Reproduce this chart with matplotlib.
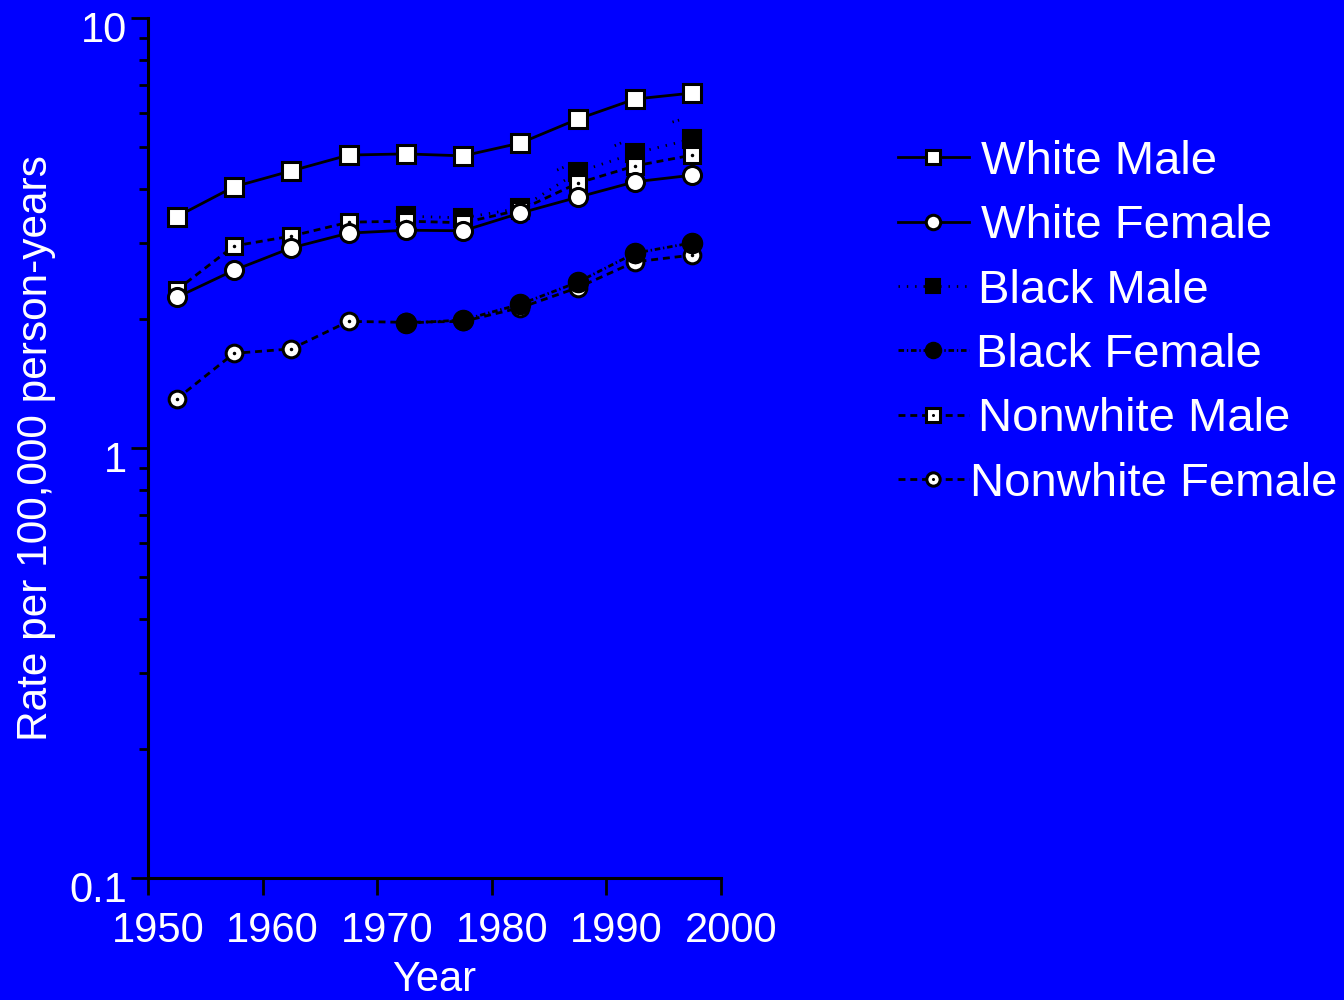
import matplotlib
matplotlib.use("Agg")
import matplotlib.pyplot as plt
import matplotlib.transforms as mtransforms
from matplotlib.ticker import LogLocator, FixedLocator, NullFormatter
from matplotlib.legend_handler import HandlerTuple

plt.rcParams['font.family'] = ['Liberation Sans', 'DejaVu Sans']
plt.rcParams['lines.scale_dashes'] = False

# 5-year period midpoints
years = [1952.5, 1957.5, 1962.5, 1967.5, 1972.5, 1977.5, 1982.5, 1987.5, 1992.5, 1997.5]
black_years = [1972.5, 1977.5, 1982.5, 1987.5, 1992.5, 1997.5]

# rates per 100,000 person-years
white_male = [3.45, 4.05, 4.41, 4.80, 4.83, 4.78, 5.12, 5.82, 6.48, 6.69]
white_female = [2.24, 2.59, 2.92, 3.16, 3.21, 3.20, 3.52, 3.83, 4.16, 4.31]
black_male = [3.46, 3.43, 3.61, 4.38, 4.85, 5.23]
black_female = [1.95, 1.985, 2.16, 2.43, 2.84, 3.00]
nonwhite_male = [2.33, 2.95, 3.11, 3.35, 3.37, 3.34, 3.58, 4.13, 4.53, 4.80]
nonwhite_female = [1.30, 1.66, 1.70, 1.97, 1.96, 1.97, 2.12, 2.36, 2.71, 2.81]

# stray dotted trace near the black male line
extra_years = [1985.7, 1995.2, 1999.6]
extra_vals = [4.43, 5.67, 6.14]

labels = ['White Male', 'White Female', 'Black Male', 'Black Female',
          'Nonwhite Male', 'Nonwhite Female']

bg = '#0000ff'
fig = plt.figure(figsize=(13.44, 10), dpi=100, facecolor=bg)
ax = fig.add_axes([148 / 1344, 122 / 1000, (721 - 148) / 1344, (878 - 18) / 1000])
ax.set_facecolor(bg)

lw = 2.0
dotted = (0, (1.0, 5.0))
dashdot = (0, (4.0, 2.0, 1.0, 2.0))
dashed = (0, (5.0, 3.5))

bm, = ax.plot(black_years, black_male, color='black', lw=lw, linestyle=dotted,
              marker='s', ms=13, mfc='black', mec='black', mew=1.5, zorder=3)
nm, = ax.plot(years, nonwhite_male, color='black', lw=lw, linestyle=dashed,
              marker='s', ms=12, mfc='white', mec='black', mew=2.2, zorder=4)
nm_dot, = ax.plot(years, nonwhite_male, linestyle='none', marker='o', ms=1.5,
                  mfc='black', mec='black', zorder=4.1)
nf, = ax.plot(years, nonwhite_female, color='black', lw=lw, linestyle=dashed,
              marker='o', ms=12, mfc='white', mec='black', mew=2.2, zorder=5)
nf_dot, = ax.plot(years, nonwhite_female, linestyle='none', marker='o', ms=1.5,
                  mfc='black', mec='black', zorder=5.1)
bf, = ax.plot(black_years, black_female, color='black', lw=lw, linestyle=dashdot,
              marker='o', ms=14.5, mfc='black', mec='black', zorder=6)
wf, = ax.plot(years, white_female, color='black', lw=lw, linestyle='-',
              marker='o', ms=13, mfc='white', mec='black', mew=2.2, zorder=7)
wm, = ax.plot(years, white_male, color='black', lw=lw, linestyle='-',
              marker='s', ms=13, mfc='white', mec='black', mew=2.2, zorder=8)
ax.plot(extra_years, extra_vals, color='black', lw=lw,
        linestyle=(0, (1.0, 3.0, 1.0, 40.0)), zorder=2)

ax.set_yscale('log')
ax.set_ylim(0.1, 10)
ax.set_xlim(1950, 2000)
ax.xaxis.set_major_locator(FixedLocator([1950, 1960, 1970, 1980, 1990, 2000]))
ax.yaxis.set_major_locator(FixedLocator([0.1, 1, 10]))
ax.yaxis.set_minor_locator(LogLocator(base=10, subs=range(2, 10)))
ax.yaxis.set_minor_formatter(NullFormatter())
ax.set_yticklabels(['0.1', '1', '10'])

for s in ['top', 'right']:
    ax.spines[s].set_visible(False)
for s in ['left', 'bottom']:
    ax.spines[s].set_linewidth(2.2)
    ax.spines[s].set_color('black')

ax.tick_params(axis='both', which='major', length=12, width=2, color='black',
               labelcolor='white', labelsize=30)
ax.tick_params(axis='y', which='minor', length=6.5, width=2, color='black')
ax.tick_params(axis='x', which='major', pad=12)
ax.tick_params(axis='y', which='major', pad=3)

# nudge tick labels
px = fig.dpi_scale_trans
for lab in ax.get_xticklabels():
    lab.set_transform(lab.get_transform() + mtransforms.ScaledTranslation(10 / 100, 0, px))
for lab in ax.get_yticklabels():
    lab.set_transform(lab.get_transform() + mtransforms.ScaledTranslation(0, -8 / 100, px))

ax.set_xlabel('Year', color='white', fontsize=30, labelpad=6)
ax.set_ylabel('Rate per 100,000 person-years', color='white', fontsize=30.5, labelpad=10)

handles = [wm, wf, bm, bf, (nm, nm_dot), (nf, nf_dot)]
leg = fig.legend(handles, labels, loc='upper left',
                 bbox_to_anchor=(898 / 1344, 1 - 140 / 1000),
                 frameon=False, fontsize=34, labelcolor='white',
                 handlelength=1.5, handletextpad=0.25, labelspacing=0.43,
                 borderpad=0, borderaxespad=0, markerscale=0.8, numpoints=1,
                 handler_map={tuple: HandlerTuple(ndivide=1)})

# labels drift a little to the left going down the list
shifts = [0, 0, -3, -5, -3, -11]
for txt, dx in zip(leg.get_texts(), shifts):
    txt.set_transform(txt.get_transform() + mtransforms.ScaledTranslation(dx / 100, 0, px))

fig.savefig('out.png', dpi=100, facecolor=bg)
